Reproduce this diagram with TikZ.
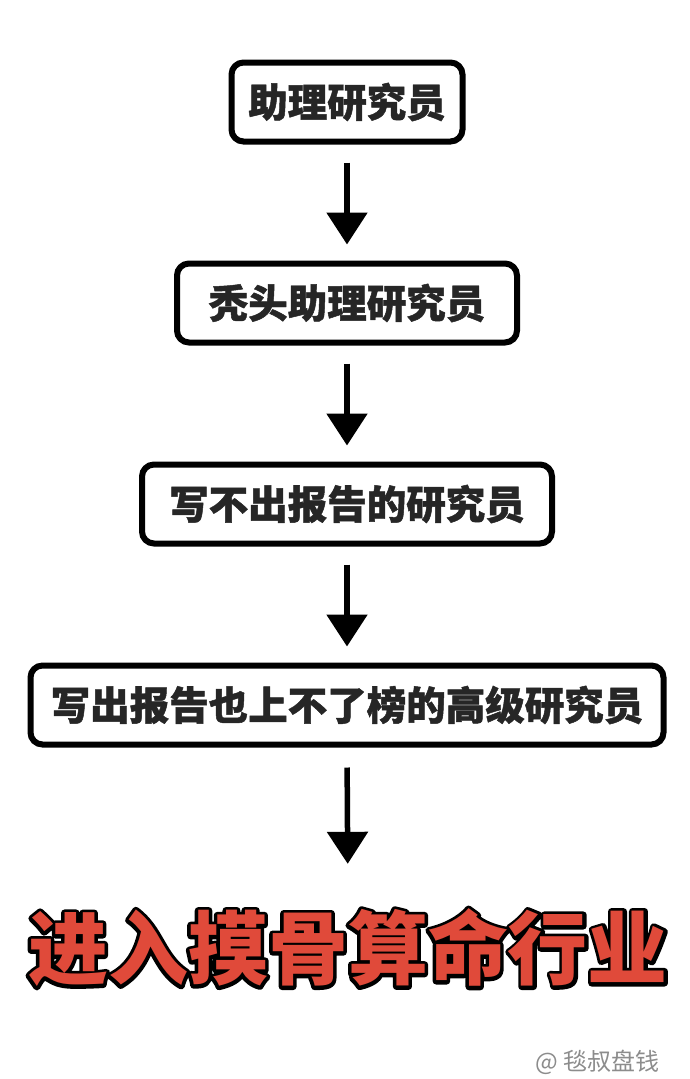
\documentclass[tikz,border=0pt]{standalone}
\usepackage{fontspec}
\newfontfamily\cjk{Noto Sans CJK SC}
\newfontfamily\cjkheavy{Noto Sans CJK SC}[BoldFeatures={FakeBold=1.2}]
\usetikzlibrary{positioning,arrows.meta}
\definecolor{textgray}{HTML}{262626}
\definecolor{titlered}{HTML}{E04A3A}
\definecolor{markgray}{HTML}{8C8C8C}
% Umriss fuer den Schlusstext
\newcommand{\outlineon}{\special{pdf:literal direct 1 Tr 7 w 1 j 0 0 0 RG}}
\newcommand{\outlineoff}{\special{pdf:literal direct 0 Tr}}

\begin{document}
\begin{tikzpicture}[
  x = 1pt, y = 1pt,
  stage/.style = {
    draw, rounded corners = 12pt, line width = 6pt,
    minimum height = 79pt, inner sep = 0pt,
    font = \cjkheavy\bfseries\fontsize{39.5}{39.5}\selectfont,
    text = textgray
  },
  title/.style = {
    inner sep = 0pt,
    font = \cjk\bfseries\fontsize{80}{80}\selectfont
  },
  arr/.style = {line width = 5.5pt, -{Triangle[length=32pt,width=40pt]}},
  node distance = 116pt
]
  \useasboundingbox (0,0) rectangle (690,-1079);

  % Stufen
  \node[stage, minimum width=231pt] (b1) at (347,-102) {助理研究员};
  \node[stage, minimum width=340pt] (b2) [below=of b1] {秃头助理研究员};
  \node[stage, minimum width=410pt] (b3) [below=of b2] {写不出报告的研究员};
  \node[stage, minimum width=633pt] (b4) [below=of b3] {写出报告也上不了榜的高级研究员};

  % Ziel
  \node[title, text=black] (tb) at (348,-948) {\outlineon 进入摸骨算命行业\outlineoff};
  \node[title, text=titlered] (t) at (tb.center) {进入摸骨算命行业};

  % Pfeile
  \draw[arr, shorten <=18pt, shorten >=16pt] (b1.south) -- (b2.north);
  \draw[arr, shorten <=18pt, shorten >=16pt] (b2.south) -- (b3.north);
  \draw[arr, shorten <=18pt, shorten >=16pt] (b3.south) -- (b4.north);
  \draw[arr, shorten <=20pt, shorten >=45pt] (b4.south) -- (t.north);

  % Wasserzeichen
  \node[font=\cjk\fontsize{24}{24}\selectfont, text=markgray, anchor=east]
    (mark) at (663,-1062) {@ 毯叔盘钱};
\end{tikzpicture}
\end{document}
